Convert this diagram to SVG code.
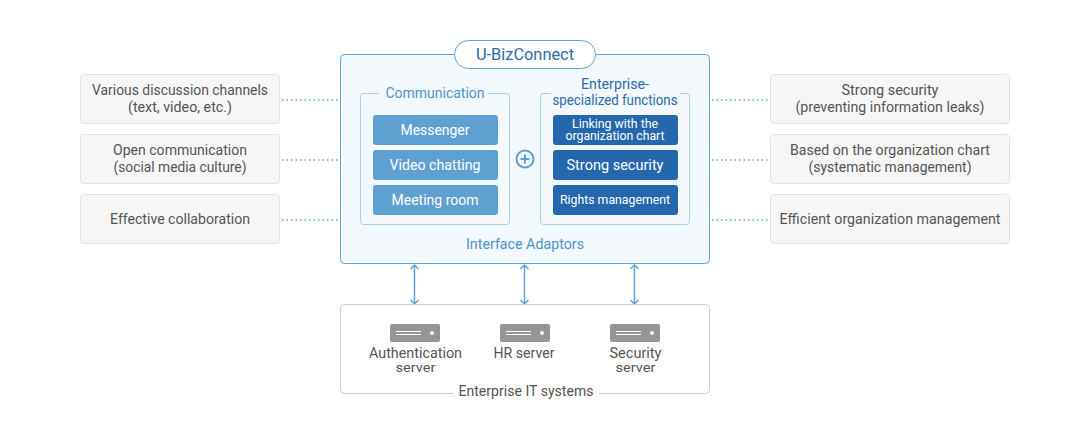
<svg xmlns="http://www.w3.org/2000/svg" width="1090" height="440" viewBox="0 0 1090 440">
<style>
text{font-family:"Roboto","Liberation Sans",sans-serif;text-anchor:middle;font-size:14px;fill:#555}
.side{fill:#f6f6f6;stroke:#e2e2e2}
.inner{fill:none;stroke:#a9d0ea}
.lt{fill:#5fa0d3}
.dk{fill:#2467ad}
.w{fill:#fff}
.blue{fill:#4a95d0}
.navy{fill:#2a6cb0}
.dot{stroke:#84bce6;stroke-width:2;stroke-dasharray:1.500 3;fill:none}
.arr{stroke:#5fa5d8;stroke-width:1.500;fill:none}
.srv{fill:#949597}
.srvl{stroke:#fff;stroke-width:1;fill:none}
</style>
<g id="connectors">
<path class="dot" d="M282 100H340M282 160H340M282 220H340M712 100H770M712 160H770M712 220H770"/>
<path class="arr" d="M414.500 265V304M410.500 269L414.500 265L418.500 269M410.500 300L414.500 304L418.500 300"/>
<path class="arr" d="M524.500 265V304M520.500 269L524.500 265L528.500 269M520.500 300L524.500 304L528.500 300"/>
<path class="arr" d="M634.500 265V304M630.500 269L634.500 265L638.500 269M630.500 300L634.500 304L638.500 300"/>
</g>
<g id="side-left-1"><rect class="side" x="80.500" y="74.500" width="199" height="49" rx="3"/><text x="180" y="95" textLength="176" lengthAdjust="spacingAndGlyphs">Various discussion channels</text><text x="180" y="112" textLength="104" lengthAdjust="spacingAndGlyphs">(text, video, etc.)</text></g>
<g id="side-left-2"><rect class="side" x="80.500" y="134.500" width="199" height="49" rx="3"/><text x="180" y="155" textLength="134" lengthAdjust="spacingAndGlyphs">Open communication</text><text x="180" y="172" textLength="133" lengthAdjust="spacingAndGlyphs">(social media culture)</text></g>
<g id="side-left-3"><rect class="side" x="80.500" y="194.500" width="199" height="49" rx="3"/><text x="180" y="224" textLength="140" lengthAdjust="spacingAndGlyphs">Effective collaboration</text></g>
<g id="side-right-1"><rect class="side" x="770.500" y="74.500" width="239" height="49" rx="3"/><text x="890" y="95" textLength="97" lengthAdjust="spacingAndGlyphs">Strong security</text><text x="890" y="112" textLength="189" lengthAdjust="spacingAndGlyphs">(preventing information leaks)</text></g>
<g id="side-right-2"><rect class="side" x="770.500" y="134.500" width="239" height="49" rx="3"/><text x="890" y="155" textLength="200" lengthAdjust="spacingAndGlyphs">Based on the organization chart</text><text x="890" y="172" textLength="163" lengthAdjust="spacingAndGlyphs">(systematic management)</text></g>
<g id="side-right-3"><rect class="side" x="770.500" y="194.500" width="239" height="49" rx="3"/><text x="890" y="224" textLength="221" lengthAdjust="spacingAndGlyphs">Efficient organization management</text></g>
<g id="u-bizconnect">
<rect x="340.500" y="54.500" width="369" height="209" rx="4" fill="#f3f8fc" stroke="#5fa5d8"/>
<rect x="454.500" y="40.500" width="141" height="28" rx="14" fill="#fff" stroke="#5fa5d8"/>
<text x="525" y="60" style="font-size:16px" class="navy" textLength="98" lengthAdjust="spacingAndGlyphs">U-BizConnect</text>
<text x="525" y="249" class="blue" textLength="118" lengthAdjust="spacingAndGlyphs">Interface Adaptors</text>
</g>
<g id="communication">
<path class="inner" d="M379 93.500H363.500a3 3 0 0 0-3 3V221.500a3 3 0 0 0 3 3H506.500a3 3 0 0 0 3-3V96.500a3 3 0 0 0-3-3H488"/>
<text x="435" y="98" class="blue" textLength="99" lengthAdjust="spacingAndGlyphs">Communication</text>
<g id="messenger"><rect class="lt" x="373" y="115" width="125" height="30" rx="3"/><text class="w" x="435" y="135" textLength="69" lengthAdjust="spacingAndGlyphs">Messenger</text></g>
<g id="video-chatting"><rect class="lt" x="373" y="150" width="125" height="30" rx="3"/><text class="w" x="435" y="170" textLength="91" lengthAdjust="spacingAndGlyphs">Video chatting</text></g>
<g id="meeting-room"><rect class="lt" x="373" y="185" width="125" height="30" rx="3"/><text class="w" x="435" y="205" textLength="87" lengthAdjust="spacingAndGlyphs">Meeting room</text></g>
</g>
<g id="plus"><circle cx="525" cy="159" r="8.500" fill="none" stroke="#5fa0d3" stroke-width="2"/><path d="M520.500 159H529.500M525 154.500V163.500" stroke="#5fa0d3" stroke-width="2" fill="none"/></g>
<g id="enterprise">
<path class="inner" d="M551 93.500H543.500a3 3 0 0 0-3 3V221.500a3 3 0 0 0 3 3H686.500a3 3 0 0 0 3-3V96.500a3 3 0 0 0-3-3H680"/>
<text x="615" y="89" class="navy" textLength="68" lengthAdjust="spacingAndGlyphs">Enterprise-</text>
<text x="615" y="105" class="navy" textLength="125" lengthAdjust="spacingAndGlyphs">specialized functions</text>
<g id="linking"><rect class="dk" x="553" y="115" width="125" height="30" rx="3"/><text class="w" x="615" y="127.500" style="font-size:12px" textLength="86" lengthAdjust="spacingAndGlyphs">Linking with the</text><text class="w" x="615" y="140" style="font-size:12px" textLength="99" lengthAdjust="spacingAndGlyphs">organization chart</text></g>
<g id="strong-security"><rect class="dk" x="553" y="150" width="125" height="30" rx="3"/><text class="w" x="615" y="170" textLength="97" lengthAdjust="spacingAndGlyphs">Strong security</text></g>
<g id="rights"><rect class="dk" x="553" y="185" width="125" height="30" rx="3"/><text class="w" x="615" y="204" style="font-size:12.500px" textLength="110" lengthAdjust="spacingAndGlyphs">Rights management</text></g>
</g>
<g id="enterprise-it">
<path d="M453 393.500H344.500a4 4 0 0 1-4-4V308.500a4 4 0 0 1 4-4H705.500a4 4 0 0 1 4 4V389.500a4 4 0 0 1-4 4H599" fill="none" stroke="#ccc"/>
<text x="526" y="396" textLength="135" lengthAdjust="spacingAndGlyphs">Enterprise IT systems</text>
</g>
<g id="auth-server"><rect class="srv" x="390" y="324" width="50" height="18" rx="2"/><path class="srvl" d="M396 331.500H421M396 334.500H421"/><circle cx="432" cy="333" r="2" fill="#fff"/><text x="415.500" y="358" textLength="93" lengthAdjust="spacingAndGlyphs">Authentication</text><text x="415.500" y="372" style="font-size:13px" textLength="40" lengthAdjust="spacingAndGlyphs">server</text></g>
<g id="hr-server"><rect class="srv" x="500" y="324" width="50" height="18" rx="2"/><path class="srvl" d="M506 331.500H531M506 334.500H531"/><circle cx="542" cy="333" r="2" fill="#fff"/><text x="524" y="358" textLength="61" lengthAdjust="spacingAndGlyphs">HR server</text></g>
<g id="security-server"><rect class="srv" x="610" y="324" width="50" height="18" rx="2"/><path class="srvl" d="M616 331.500H641M616 334.500H641"/><circle cx="652" cy="333" r="2" fill="#fff"/><text x="635.500" y="358" textLength="52" lengthAdjust="spacingAndGlyphs">Security</text><text x="635.500" y="372" style="font-size:13px" textLength="40" lengthAdjust="spacingAndGlyphs">server</text></g>
</svg>
